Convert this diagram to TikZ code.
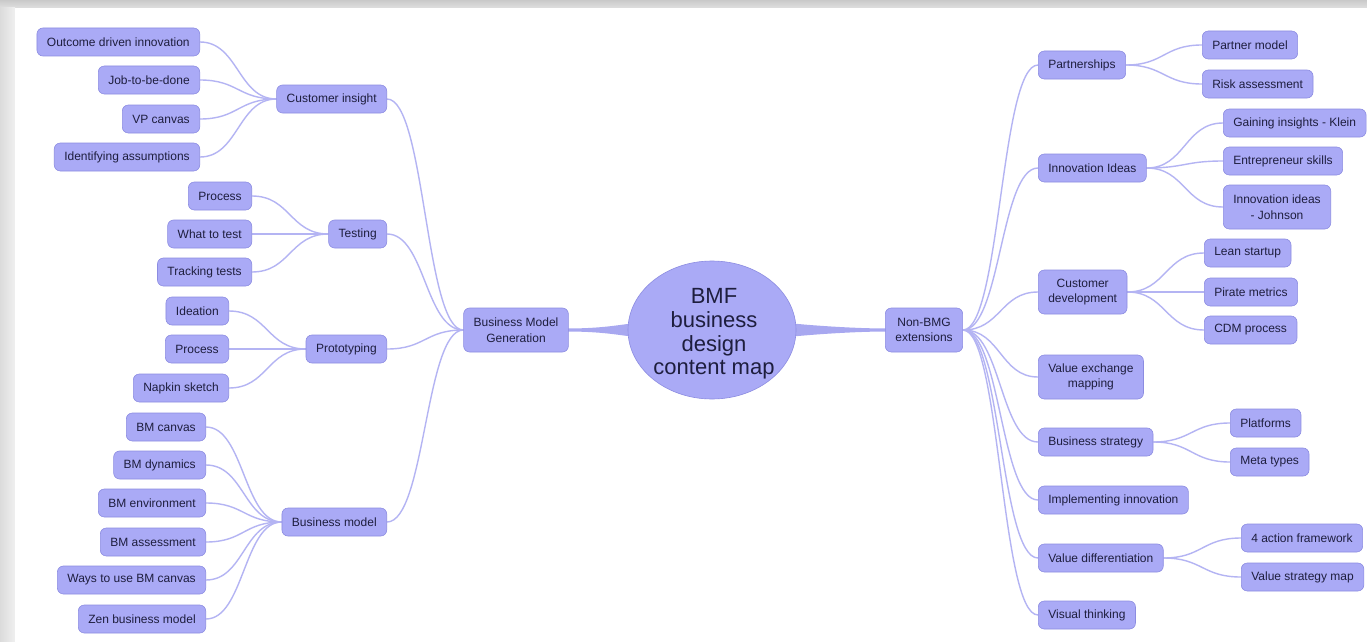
\documentclass[tikz,border=0pt]{standalone}
\usepackage{fontspec}
\setmainfont{Liberation Sans}
\usetikzlibrary{calc,shapes.geometric}
\definecolor{nodefill}{RGB}{170,170,246}
\definecolor{nodeedge}{RGB}{140,140,225}
\definecolor{linkcol}{RGB}{180,180,243}
\definecolor{tapercol}{RGB}{168,168,240}
\definecolor{txt}{RGB}{30,30,62}
\pgfdeclarelayer{bg}
\pgfsetlayers{bg,main}
\tikzset{
  box/.style={draw=nodeedge, line width=0.6pt, fill=nodefill, rounded corners=6pt,
    text=txt, font=\fontsize{12}{15.5}\selectfont, inner xsep=10pt, inner ysep=2pt,
    minimum height=28pt, align=center},
  boxtwo/.style={box, minimum height=44pt},
  link/.style={draw=linkcol, line width=1.4pt},
  taper/.style={fill=tapercol}
}
\newcommand\lnk[2]{\draw[link] let \p1=(#1.east), \p2=(#2.west), \n1={0.5*(\x2-\x1)} in (\p1) .. controls +(\n1,0) and +(-\n1,0) .. (\p2);}
\begin{document}
\begin{tikzpicture}[x=1pt,y=-1pt]
\useasboundingbox (0,0) rectangle (1367,642);
\begin{pgfonlayer}{bg}
  \shade[top color=gray!42, bottom color=gray!25] (0,0) rectangle (1367,8);
  \shade[left color=gray!28, right color=gray!12] (0,8) rectangle (15,642);
  \fill[white] (15,8) rectangle (1367,642);
\end{pgfonlayer}

% ---------- left side ----------
\node[box, anchor=east] (odi)  at (200,42)  {Outcome driven innovation};
\node[box, anchor=east] (jtbd) at (200,80)  {Job-to-be-done};
\node[box, anchor=east] (vp)   at (200,119) {VP canvas};
\node[box, anchor=east] (ia)   at (200,157) {Identifying assumptions};
\node[box, anchor=east] (ci)   at (387,99)  {Customer insight};

\node[box, anchor=east] (procA) at (252,196) {Process};
\node[box, anchor=east] (wtt)   at (252,234) {What to test};
\node[box, anchor=east] (tt)    at (252,272) {Tracking tests};
\node[box, anchor=east] (test)  at (387,234) {Testing};

\node[box, anchor=east] (idea)  at (229,311) {Ideation};
\node[box, anchor=east] (procB) at (229,349) {Process};
\node[box, anchor=east] (nap)   at (229,388) {Napkin sketch};
\node[box, anchor=east] (proto) at (387,349) {Prototyping};

\node[box, anchor=east] (bmc)  at (206,427) {BM canvas};
\node[box, anchor=east] (bmd)  at (206,465) {BM dynamics};
\node[box, anchor=east] (bme)  at (206,503) {BM environment};
\node[box, anchor=east] (bma)  at (206,542) {BM assessment};
\node[box, anchor=east] (ways) at (206,580) {Ways to use BM canvas};
\node[box, anchor=east] (zen)  at (206,619) {Zen business model};
\node[box, anchor=east] (bm)   at (387,522) {Business model};

% ---------- centre ----------
\node[boxtwo] (bmg) at (516,330) {Business Model\\Generation};
\node[ellipse, draw=nodeedge, line width=0.6pt, fill=nodefill, minimum width=168pt,
  minimum height=138pt, inner sep=0pt] (root) at (712,330) {};
\node[align=center, text=txt, inner sep=0pt,
  font=\fontsize{22}{23.6}\selectfont] (roottext) at (714,334) {BMF\\business\\design\\content map};
\node[boxtwo] (nonbmg) at (924,330) {Non-BMG\\extensions};

% ---------- right side ----------
\node[box, anchor=west] (part) at (1038,65)  {Partnerships};
\node[box, anchor=west] (pm)   at (1202,45)  {Partner model};
\node[box, anchor=west] (ra)   at (1202,84)  {Risk assessment};

\node[box, anchor=west] (innov) at (1038,168) {Innovation Ideas};
\node[box, anchor=west] (gik)   at (1223,123) {Gaining insights - Klein};
\node[box, anchor=west] (es)    at (1223,161) {Entrepreneur skills};
\node[boxtwo, anchor=west] (iij) at (1223,207) {Innovation ideas\\- Johnson};

\node[boxtwo, anchor=west] (cdev) at (1038,292) {Customer\\development};
\node[box, anchor=west] (lean)   at (1204,253) {Lean startup};
\node[box, anchor=west] (pirate) at (1204,292) {Pirate metrics};
\node[box, anchor=west] (cdm)    at (1204,330) {CDM process};

\node[boxtwo, anchor=west] (vem) at (1038,377) {Value exchange\\mapping};

\node[box, anchor=west] (bstrat) at (1038,442) {Business strategy};
\node[box, anchor=west] (plat)   at (1230,423) {Platforms};
\node[box, anchor=west] (meta)   at (1230,462) {Meta types};

\node[box, anchor=west] (impl) at (1038,500) {Implementing innovation};

\node[box, anchor=west] (vdiff) at (1038,558) {Value differentiation};
\node[box, anchor=west] (act)   at (1241,538) {4 action framework};
\node[box, anchor=west] (vsm)   at (1241,577) {Value strategy map};

\node[box, anchor=west] (visual) at (1038,615) {Visual thinking};

% ---------- connectors ----------
\begin{pgfonlayer}{bg}
  \fill[taper] ($(bmg.east)+(-2,-1.5)$) .. controls +(35,0) and +(-18,2) .. ($(root.west)+(8,-7)$)
     -- ($(root.west)+(8,7)$) .. controls +(-18,-2) and +(35,0) .. ($(bmg.east)+(-2,1.5)$) -- cycle;
  \fill[taper] ($(root.east)+(-8,-7)$) .. controls +(18,2) and +(-35,0) .. ($(nonbmg.west)+(2,-1.5)$)
     -- ($(nonbmg.west)+(2,1.5)$) .. controls +(-35,0) and +(18,-2) .. ($(root.east)+(-8,7)$) -- cycle;

  \lnk{odi}{ci} \lnk{jtbd}{ci} \lnk{vp}{ci} \lnk{ia}{ci}
  \lnk{procA}{test} \lnk{wtt}{test} \lnk{tt}{test}
  \lnk{idea}{proto} \lnk{procB}{proto} \lnk{nap}{proto}
  \lnk{bmc}{bm} \lnk{bmd}{bm} \lnk{bme}{bm} \lnk{bma}{bm} \lnk{ways}{bm} \lnk{zen}{bm}
  \lnk{ci}{bmg} \lnk{test}{bmg} \lnk{proto}{bmg} \lnk{bm}{bmg}

  \lnk{nonbmg}{part} \lnk{nonbmg}{innov} \lnk{nonbmg}{cdev} \lnk{nonbmg}{vem}
  \lnk{nonbmg}{bstrat} \lnk{nonbmg}{impl} \lnk{nonbmg}{vdiff} \lnk{nonbmg}{visual}
  \lnk{part}{pm} \lnk{part}{ra}
  \lnk{innov}{gik} \lnk{innov}{es} \lnk{innov}{iij}
  \lnk{cdev}{lean} \lnk{cdev}{pirate} \lnk{cdev}{cdm}
  \lnk{bstrat}{plat} \lnk{bstrat}{meta}
  \lnk{vdiff}{act} \lnk{vdiff}{vsm}
\end{pgfonlayer}
\end{tikzpicture}
\end{document}
